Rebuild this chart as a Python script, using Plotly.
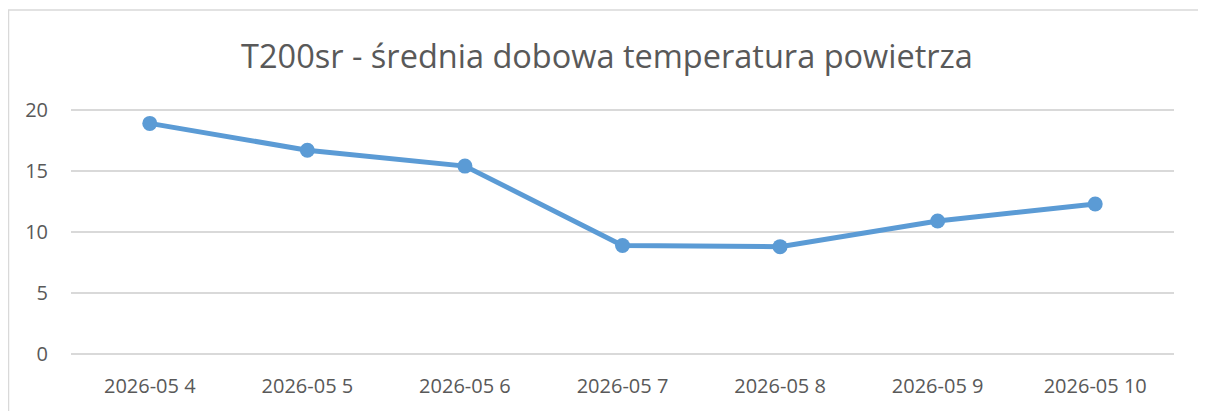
import plotly.graph_objects as go

categories = ["2026-05 4", "2026-05 5", "2026-05 6", "2026-05 7", "2026-05 8", "2026-05 9", "2026-05 10"]
temperature = [18.9, 16.7, 15.4, 8.9, 8.8, 10.9, 12.3]
y_ticks = [0, 5, 10, 15, 20]

FONT = "Open Sans"
GREY = "#595959"

# page body has an 8px margin, so the figure is sized/offset to compensate
W, H = 1198, 403
L, R, T, B = 63, 32, 100, 55
PW, PH = W - L - R, H - T - B

fig = go.Figure()
fig.add_trace(go.Scatter(
    x=categories, y=temperature, mode="lines+markers",
    line=dict(color="#5B9BD5", width=5),
    marker=dict(color="#5B9BD5", size=15),
    showlegend=False, hoverinfo="x+y",
))

fig.update_layout(
    width=W, height=H,
    margin=dict(l=L, r=R, t=T, b=B),
    paper_bgcolor="white", plot_bgcolor="white",
    title=dict(text="T200sr - średnia dobowa temperatura powietrza",
               x=0.5, xanchor="center", y=1 - 49 / H, yanchor="middle",
               font=dict(family=FONT, size=32.5, color=GREY)),
    font=dict(family=FONT, color=GREY),
    xaxis=dict(type="category", range=[-0.5, 6.5], showgrid=False, zeroline=False,
               showline=False, ticks="", tickfont=dict(family=FONT, size=20, color=GREY),
               ticklabelstandoff=16, fixedrange=True),
    yaxis=dict(range=[-0.16, 20.16], tickvals=y_ticks, showgrid=True, gridcolor="#D9D9D9",
               gridwidth=1.5, zeroline=False, showline=False, ticks="",
               tickfont=dict(family=FONT, size=20, color=GREY),
               ticklabelstandoff=22, fixedrange=True),
    shapes=[dict(type="rect", xref="paper", yref="paper",
                 x0=(0.5 - L) / PW, x1=(1195 - L) / PW,
                 y0=(T + PH - (H + 20)) / PH, y1=(T + PH - 2) / PH,
                 line=dict(color="#D9D9D9", width=1.5), layer="below")],
)

fig.write_html("out.html")
